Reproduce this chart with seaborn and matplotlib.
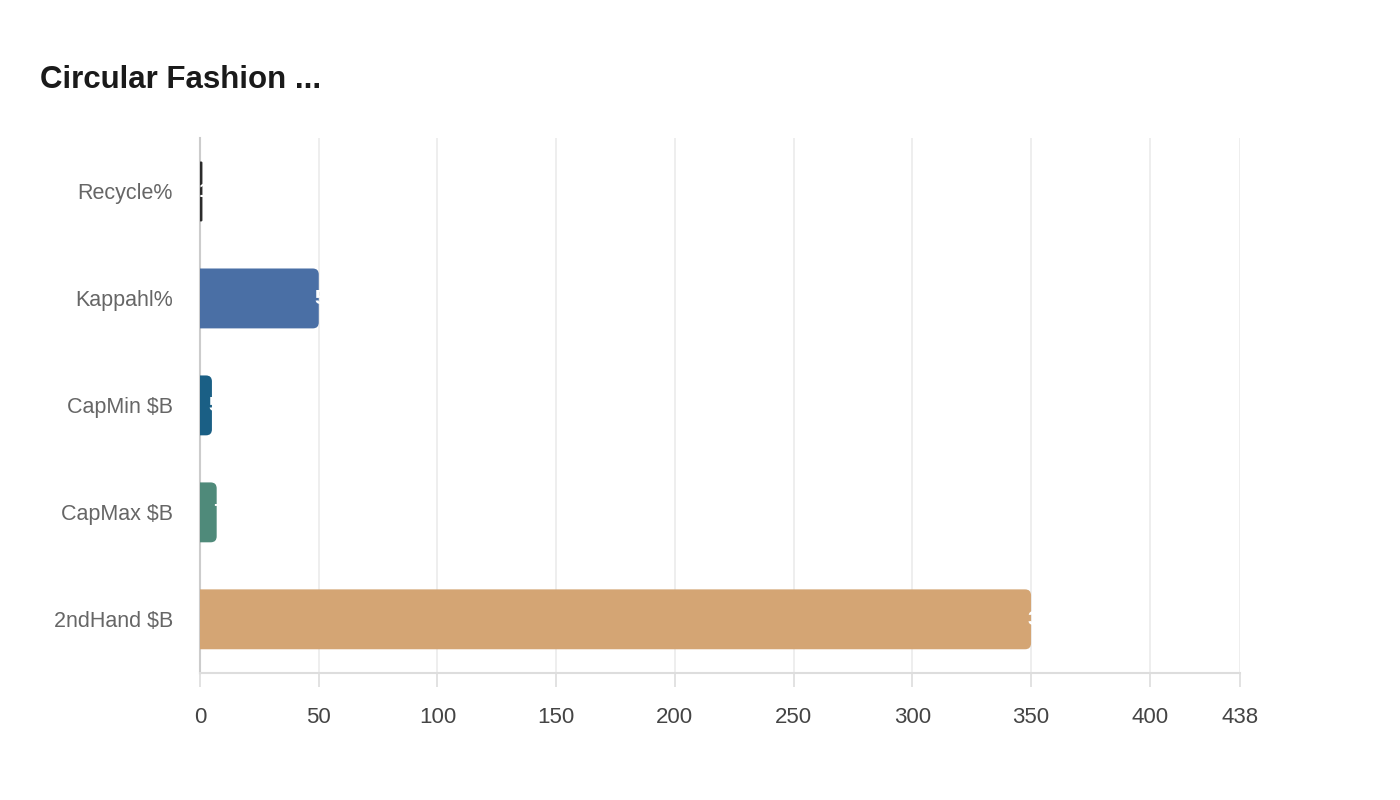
import matplotlib
matplotlib.use("Agg")
import matplotlib.pyplot as plt
import seaborn as sns
import pandas as pd
from matplotlib.patches import FancyBboxPatch

# chart values
categories = ["Recycle%", "Kappahl%", "CapMin $B", "CapMax $B", "2ndHand $B"]
values = [1, 50, 5, 7, 350]
colors = ["#2b2b2b", "#4a6fa5", "#1a5f85", "#4f8a7a", "#d4a574"]
x_ticks = [0, 50, 100, 150, 200, 250, 300, 350, 400, 438]
x_max = 438

df = pd.DataFrame({"metric": categories, "value": values})

sns.set_theme(style="white")
plt.rcParams["font.family"] = ["Liberation Sans", "DejaVu Sans"]

fig = plt.figure(figsize=(14, 8), dpi=100)
ax = fig.add_axes([0.1429, 0.159, 0.7428, 0.6685])

sns.barplot(data=df, x="value", y="metric", hue="metric", palette=colors,
            orient="h", width=0.56, saturation=1, legend=False, ax=ax)

ax.set_xlim(0, x_max)
ax.set_ylim(4.5, -0.5)

# swap plain rectangles for bars with rounded right ends
px_per_x = 1040 / x_max
px_per_y = 107.0
for patch, val in zip(list(ax.patches), values):
    x0, y0 = patch.get_x(), patch.get_y()
    w, h = patch.get_width(), patch.get_height()
    r = min(6 / px_per_x, w * 0.5)
    rounded = FancyBboxPatch((x0 - r, y0), w + r, h,
                             boxstyle=f"round,pad=0,rounding_size={r}",
                             mutation_aspect=px_per_x / px_per_y,
                             facecolor=patch.get_facecolor(), edgecolor="none",
                             zorder=3)
    ax.add_patch(rounded)
    patch.set_visible(False)
    txt = ax.text(x0 + w - 4 / px_per_x, y0 + h / 2, f"{val:g}",
                  ha="left", va="center", color="white", fontsize=15,
                  fontweight="bold", zorder=4)
    txt.set_clip_path(rounded)

ax.set_xticks(x_ticks)
ax.set_xticklabels([str(t) for t in x_ticks])
ax.grid(axis="x", color="#ebebeb", linewidth=1.2, zorder=0)
ax.set_axisbelow(True)
ax.set_xlabel("")
ax.set_ylabel("")

for side in ["top", "right"]:
    ax.spines[side].set_visible(False)
ax.spines["left"].set_color("#cccccc")
ax.spines["left"].set_linewidth(1.5)
ax.spines["bottom"].set_color("#dddddd")
ax.spines["bottom"].set_linewidth(1.5)

ax.tick_params(axis="x", bottom=True, length=10, color="#dddddd", width=1.2,
               labelsize=16, labelcolor="#444444", pad=14.5)
ax.tick_params(axis="y", left=False, labelsize=15.5, labelcolor="#666666", pad=13.5)

fig.text(40 / 1400, 1 - 80 / 800, "Circular Fashion ...", fontsize=22.5,
         fontweight="bold", color="#1a1a1a", ha="left", va="center")

fig.savefig("out.png", dpi=100)
